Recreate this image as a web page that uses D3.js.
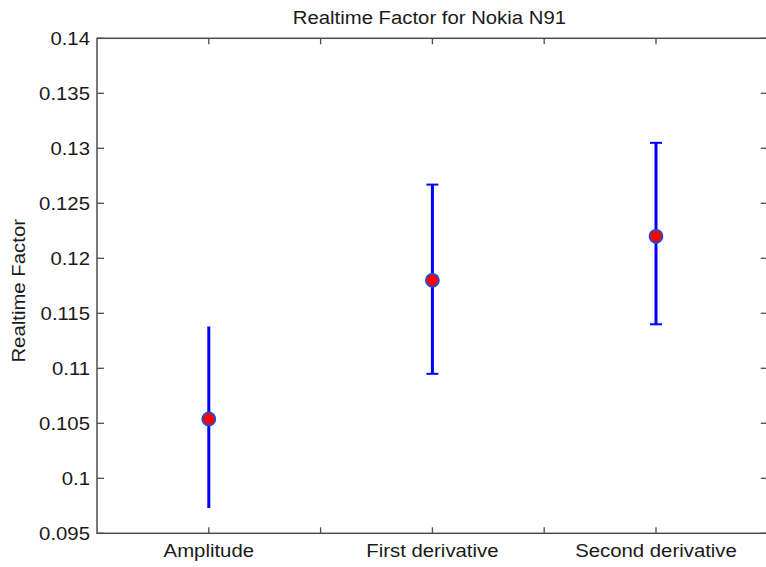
<!DOCTYPE html>
<html>
<head>
<meta charset="utf-8">
<script src="https://cdn.jsdelivr.net/npm/d3@7"></script>
<style>
  html, body { margin: 0; padding: 0; background: #fff; }
  svg { display: block; }
  text { font-family: "Liberation Sans", Arial, sans-serif; fill: #1a1a1a; }
</style>
</head>
<body>
<svg id="chart" width="766" height="567"></svg>
<script>
// ---- data ----
const categories = ["Amplitude", "First derivative", "Second derivative"];
const means      = [0.1054, 0.1180, 0.1220];
const lower      = [0.0973, 0.1095, 0.1140];
const upper      = [0.1138, 0.1267, 0.1305];
const hasCap     = [false, true, true];
const yTicks     = [0.095, 0.1, 0.105, 0.11, 0.115, 0.12, 0.125, 0.13, 0.135, 0.14];
const xTicks     = [1, 1.5, 2, 2.5, 3];
const title      = "Realtime Factor for Nokia N91";
const yLabel     = "Realtime Factor";

// ---- layout ----
const pLeft = 97, pRight = 767.8, pTop = 38.3, pBottom = 533.3;
const fs = 18.5, sx = 1.1;
const axisColor = "#4d4d4d";

const svg = d3.select("#chart");
const x = d3.scaleLinear().domain([0.5, 3.5]).range([pLeft, pRight]);
const y = d3.scaleLinear().domain([0.095, 0.14]).range([pBottom, pTop]);

// frame
const g = svg.append("g");
g.append("rect")
  .attr("x", pLeft).attr("y", pTop)
  .attr("width", pRight - pLeft).attr("height", pBottom - pTop)
  .attr("fill", "none").attr("stroke", axisColor).attr("stroke-width", 1.5);

// y ticks (left & right, inward)
g.selectAll("line.yl").data(yTicks).enter().append("line")
  .attr("x1", pLeft).attr("x2", pLeft + 7)
  .attr("y1", d => y(d)).attr("y2", d => y(d))
  .attr("stroke", axisColor).attr("stroke-width", 1.3);
g.selectAll("line.yr").data(yTicks).enter().append("line")
  .attr("x1", pRight).attr("x2", pRight - 7)
  .attr("y1", d => y(d)).attr("y2", d => y(d))
  .attr("stroke", axisColor).attr("stroke-width", 1.3);
// x ticks (bottom & top, inward)
g.selectAll("line.xb").data(xTicks).enter().append("line")
  .attr("x1", d => x(d)).attr("x2", d => x(d))
  .attr("y1", pBottom).attr("y2", pBottom - 6)
  .attr("stroke", axisColor).attr("stroke-width", 1.3);
g.selectAll("line.xt").data(xTicks).enter().append("line")
  .attr("x1", d => x(d)).attr("x2", d => x(d))
  .attr("y1", pTop).attr("y2", pTop + 6)
  .attr("stroke", axisColor).attr("stroke-width", 1.3);

// y tick labels
const fmt = d => String(+d.toFixed(3));
g.selectAll("text.yt").data(yTicks).enter().append("text")
  .attr("transform", d => `translate(${pLeft - 7},${y(d)}) scale(${sx},1)`)
  .attr("text-anchor", "end").attr("dy", "0.36em")
  .style("font-size", fs + "px")
  .text(fmt);

// x category labels
g.selectAll("text.xt").data(categories).enter().append("text")
  .attr("transform", (d, i) => `translate(${x(i + 1)},${557.3}) scale(${sx},1)`)
  .attr("text-anchor", "middle")
  .style("font-size", fs + "px")
  .text(d => d);

// title
svg.append("text")
  .attr("transform", `translate(${(pLeft + pRight) / 2 - 3},24) scale(1.07,1)`)
  .attr("text-anchor", "middle")
  .style("font-size", "19px")
  .text(title);

// y label
svg.append("text")
  .attr("transform", `translate(25,${(pTop + pBottom) / 2 + 5}) rotate(-90) scale(${sx},1)`)
  .attr("text-anchor", "middle")
  .style("font-size", fs + "px")
  .text(yLabel);

// error bars
const blue = "#0000ff";
const data = categories.map((c, i) => ({ i, c, m: means[i], lo: lower[i], hi: upper[i], cap: hasCap[i] }));
const eb = svg.append("g");
eb.selectAll("line.v").data(data).enter().append("line")
  .attr("x1", d => x(d.i + 1)).attr("x2", d => x(d.i + 1))
  .attr("y1", d => y(d.lo)).attr("y2", d => y(d.hi))
  .attr("stroke", blue).attr("stroke-width", 3);
const capW = 6;
const capped = data.filter(d => d.cap);
eb.selectAll("line.ct").data(capped).enter().append("line")
  .attr("x1", d => x(d.i + 1) - capW).attr("x2", d => x(d.i + 1) + capW)
  .attr("y1", d => y(d.hi)).attr("y2", d => y(d.hi))
  .attr("stroke", blue).attr("stroke-width", 2);
eb.selectAll("line.cb").data(capped).enter().append("line")
  .attr("x1", d => x(d.i + 1) - capW).attr("x2", d => x(d.i + 1) + capW)
  .attr("y1", d => y(d.lo)).attr("y2", d => y(d.lo))
  .attr("stroke", blue).attr("stroke-width", 2);
eb.selectAll("circle").data(data).enter().append("circle")
  .attr("cx", d => x(d.i + 1)).attr("cy", d => y(d.m))
  .attr("r", 6.5)
  .attr("fill", "#ff0000").attr("stroke", "#1f4fd0").attr("stroke-width", 1.8);
</script>
</body>
</html>
